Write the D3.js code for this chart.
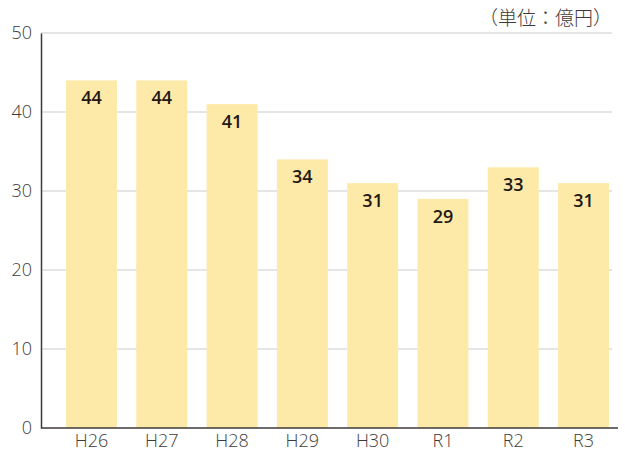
<!DOCTYPE html>
<html>
<head>
<meta charset="utf-8">
<script src="https://cdn.jsdelivr.net/npm/d3@7"></script>
<style>
  body { margin: 0; background: #fff; }
  text { font-family: "Open Sans", "Noto Sans", "Noto Sans CJK JP", sans-serif; }
</style>
</head>
<body>
<div id="chart"></div>
<script>
const categories = ["H26", "H27", "H28", "H29", "H30", "R1", "R2", "R3"];
const values = [44, 44, 41, 34, 31, 29, 33, 31];
const yTicks = [0, 10, 20, 30, 40, 50];
const unitLabel = "（単位：億円）";

const width = 625, height = 452;
const plotLeft = 41, plotRight = 615, plotTop = 33, plotBottom = 428;

const svg = d3.select("#chart").append("svg")
    .attr("width", width)
    .attr("height", height);

const y = d3.scaleLinear().domain([0, 50]).range([plotBottom, plotTop]);
const x = d3.scaleBand()
    .domain(categories)
    .range([56.3, 618.7])
    .paddingInner(0.275)
    .paddingOuter(0.1375);

// gridlines
svg.append("g")
    .selectAll("line")
    .data(yTicks.filter(d => d > 0))
    .enter().append("line")
    .attr("x1", plotLeft).attr("x2", 612)
    .attr("y1", d => y(d)).attr("y2", d => y(d))
    .attr("stroke", "#dcdcdc")
    .attr("stroke-width", 1.5);

// bars
svg.append("g")
    .selectAll("rect")
    .data(values)
    .enter().append("rect")
    .attr("x", (d, i) => x(categories[i]))
    .attr("y", d => y(d))
    .attr("width", x.bandwidth())
    .attr("height", d => y(0) - y(d))
    .attr("fill", "#feeaa8");

// value labels
svg.append("g")
    .selectAll("text")
    .data(values)
    .enter().append("text")
    .attr("x", (d, i) => x(categories[i]) + x.bandwidth() / 2)
    .attr("y", d => y(d) + 24)
    .attr("text-anchor", "middle")
    .attr("font-size", 18)
    .attr("font-weight", 600)
    .attr("fill", "#231815")
    .text(d => d);

// y axis
const yAxis = svg.append("g")
    .attr("transform", `translate(${plotLeft},0)`)
    .call(d3.axisLeft(y).tickValues(yTicks).tickSize(0).tickPadding(9));
yAxis.select(".domain").attr("stroke", "#3e3a39").attr("stroke-width", 1.5);
yAxis.selectAll("text").attr("font-size", 18).attr("fill", "#3e3a39")
    .attr("font-family", "Open Sans").attr("font-weight", 300);

// x axis
const xAxis = svg.append("g")
    .attr("transform", `translate(0,${plotBottom})`)
    .call(d3.axisBottom(x).tickSize(0).tickPadding(6));
xAxis.select(".domain").attr("d", `M${plotLeft},0H${plotRight + 3}`)
    .attr("stroke", "#3e3a39").attr("stroke-width", 1.5);
xAxis.selectAll("text").attr("font-size", 18).attr("fill", "#3e3a39")
    .attr("font-family", "Open Sans").attr("font-weight", 300);

// unit label
svg.append("text")
    .attr("x", 612)
    .attr("y", 25)
    .attr("text-anchor", "end")
    .attr("font-size", 19)
    .attr("font-weight", 300)
    .attr("fill", "#3e3a39")
    .text(unitLabel);
</script>
</body>
</html>
